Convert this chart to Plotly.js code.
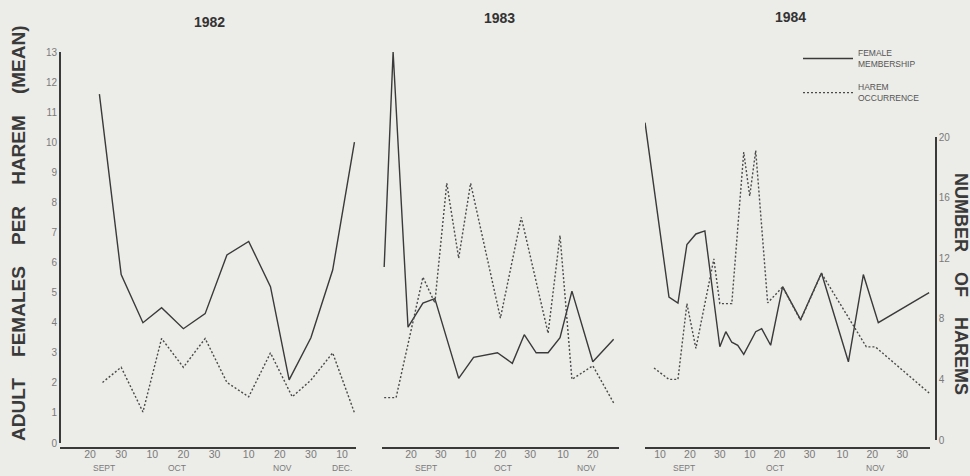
<!DOCTYPE html>
<html>
<head>
<meta charset="utf-8">
<script src="https://cdn.plot.ly/plotly-3.0.1.min.js"></script>
<style>html,body{margin:0;padding:0;background:#ecece8;}#chart{width:970px;height:476px;}</style>
</head>
<body>
<div id="chart"></div>
<script>
// ---- Data ----
// 1982
const fem82Dates = ['1982-09-23','1982-09-30','1982-10-07','1982-10-13','1982-10-20','1982-10-27','1982-11-03','1982-11-10','1982-11-17','1982-11-23','1982-11-30','1982-12-07','1982-12-14'];
const fem82Vals  = [11.6, 5.6, 4.0, 4.5, 3.8, 4.3, 6.25, 6.7, 5.2, 2.1, 3.5, 5.75, 10.0];
const har82Dates = ['1982-09-24','1982-09-30','1982-10-07','1982-10-13','1982-10-20','1982-10-27','1982-11-03','1982-11-10','1982-11-17','1982-11-24','1982-11-30','1982-12-07','1982-12-14'];
const har82Vals  = [3.8, 4.8, 1.85, 6.7, 4.8, 6.7, 3.8, 2.85, 5.75, 2.85, 3.95, 5.75, 1.8];
// 1983
const fem83Dates = ['1983-09-11','1983-09-14','1983-09-19','1983-09-24','1983-09-28','1983-10-06','1983-10-11','1983-10-16','1983-10-19','1983-10-24','1983-10-28','1983-11-01','1983-11-05','1983-11-09','1983-11-13','1983-11-20','1983-11-27'];
const fem83Vals  = [5.85, 13.0, 3.85, 4.65, 4.8, 2.15, 2.85, 2.95, 3.0, 2.65, 3.6, 3.0, 3.0, 3.5, 5.05, 2.7, 3.45];
const har83Dates = ['1983-09-11','1983-09-15','1983-09-24','1983-09-28','1983-10-02','1983-10-06','1983-10-10','1983-10-20','1983-10-27','1983-11-05','1983-11-09','1983-11-13','1983-11-20','1983-11-27'];
const har83Vals  = [2.8, 2.8, 10.75, 9.05, 16.95, 12.0, 16.95, 8.05, 14.7, 7.05, 13.5, 4.0, 4.9, 2.45];
// 1984
const fem84Dates = ['1984-09-05','1984-09-13','1984-09-16','1984-09-19','1984-09-22','1984-09-25','1984-09-30','1984-10-02','1984-10-04','1984-10-06','1984-10-08','1984-10-12','1984-10-14','1984-10-17','1984-10-21','1984-10-27','1984-11-03','1984-11-12','1984-11-17','1984-11-22','1984-12-09'];
const fem84Vals  = [10.65, 4.85, 4.65, 6.6, 6.95, 7.05, 3.2, 3.7, 3.35, 3.25, 2.95, 3.7, 3.8, 3.25, 5.2, 4.1, 5.65, 2.7, 5.6, 4.0, 5.0];
const har84Dates = ['1984-09-08','1984-09-13','1984-09-16','1984-09-19','1984-09-22','1984-09-28','1984-09-30','1984-10-04','1984-10-08','1984-10-10','1984-10-12','1984-10-16','1984-10-21','1984-10-27','1984-11-03','1984-11-18','1984-11-21','1984-12-09'];
const har84Vals  = [4.75, 4.0, 4.0, 9.0, 6.05, 11.95, 9.0, 9.0, 19.0, 16.1, 19.1, 9.05, 10.1, 7.9, 11.0, 6.15, 6.15, 3.1];

// Tick labels
const ticks82 = ['1982-09-20','1982-09-30','1982-10-10','1982-10-20','1982-10-30','1982-11-10','1982-11-20','1982-11-30','1982-12-10'];
const ticks83 = ['1983-09-20','1983-09-30','1983-10-10','1983-10-20','1983-10-30','1983-11-10','1983-11-20'];
const ticks84 = ['1984-09-10','1984-09-20','1984-09-30','1984-10-10','1984-10-20','1984-10-30','1984-11-10','1984-11-20','1984-11-30'];
const months82 = ['SEPT','OCT','NOV','DEC.'];
const months83 = ['SEPT','OCT','NOV'];
const months84 = ['SEPT','OCT','NOV'];
const years = ['1982','1983','1984'];
const seriesNames = ['FEMALE<br>MEMBERSHIP','HAREM<br>OCCURRENCE'];
const leftTicks = [0,1,2,3,4,5,6,7,8,9,10,11,12,13];
const rightTicks = [0,4,8,12,16,20];

// ---- Layout helpers (pixel -> paper) ----
const W = 970, H = 476;
const px = v => v / W;
const py = v => 1 - v / H;
const dayLabel = d => String(parseInt(d.slice(8,10),10));
const FONT = 'Liberation Sans, Arial, sans-serif';

const solid = {color:'#3a3a3a', width:1.4};
const dotted = {color:'#4a4a4a', width:1.4, dash:'2px,2px'};

function tr(x, y, xa, ya, line, name, show) {
  return {type:'scatter', mode:'lines', x:x, y:y, xaxis:xa, yaxis:ya, line:line,
          name:name, showlegend:show, hoverinfo:'skip', legendgroup:name};
}

const data = [
  tr(fem82Dates, fem82Vals, 'x', 'y', solid, seriesNames[0], false),
  tr(har82Dates, har82Vals, 'x', 'y2', dotted, seriesNames[1], false),
  tr(fem83Dates, fem83Vals, 'x2', 'y', solid, seriesNames[0], false),
  tr(har83Dates, har83Vals, 'x2', 'y2', dotted, seriesNames[1], false),
  tr(fem84Dates, fem84Vals, 'x3', 'y', solid, seriesNames[0], true),
  tr(har84Dates, har84Vals, 'x3', 'y2', dotted, seriesNames[1], true)
];

const tickFont = {family:FONT, size:10.5, color:'#7a7a7a'};
function xax(dom, range, tv) {
  return {type:'date', domain:[px(dom[0]), px(dom[1])], range:range,
          tickmode:'array', tickvals:tv, ticktext:tv.map(dayLabel),
          showline:true, linecolor:'#3a3a3a', linewidth:1.8, ticks:'',
          showgrid:false, zeroline:false, anchor:'free', position:py(447),
          ticklabelstandoff:-3,
          tickfont:tickFont, fixedrange:true};
}

const monthFont = {family:FONT, size:8.5, color:'#7a7a7a'};
const annotations = [];
function monthAnn(xref, names, at) {
  names.forEach((m,i) => annotations.push({xref:xref, yref:'paper', x:at[i], y:py(468),
    text:m, showarrow:false, font:monthFont, xanchor:'center', yanchor:'middle'}));
}
monthAnn('x', months82, ['1982-09-24 12:00','1982-10-18','1982-11-21','1982-12-10']);
monthAnn('x2', months83, ['1983-09-25','1983-10-21','1983-11-18']);
monthAnn('x3', months84, ['1984-09-18','1984-10-18 12:00','1984-11-21']);

const yearPos = [[209,22],[500,18],[790,17]];
years.forEach((yr,i) => annotations.push({xref:'paper', yref:'paper', x:px(yearPos[i][0]), y:py(yearPos[i][1]),
  text:'<b>'+yr+'</b>', showarrow:false, xanchor:'center', yanchor:'middle',
  font:{family:FONT, size:14, color:'#333'}}));

const nb = '\u00a0\u00a0\u00a0\u00a0';
annotations.push({xref:'paper', yref:'paper', x:px(18), y:py(233), textangle:-90,
  text:'<b>ADULT'+nb+'FEMALES'+nb+'PER'+nb+'HAREM'+nb+'(MEAN)</b>', showarrow:false,
  xanchor:'center', yanchor:'middle', font:{family:FONT, size:19, color:'#3a3a3a'}});
annotations.push({xref:'paper', yref:'paper', x:px(961), y:py(284), textangle:90,
  text:'<b>NUMBER'+nb+'OF'+nb+'HAREMS</b>', showarrow:false,
  xanchor:'center', yanchor:'middle', font:{family:FONT, size:18, color:'#3a3a3a'}});

const layout = {
  width:W, height:H, margin:{l:0,r:0,t:0,b:0,pad:0},
  paper_bgcolor:'#ecece8', plot_bgcolor:'rgba(0,0,0,0)',
  showlegend:true,
  legend:{x:px(798), y:py(41), xanchor:'left', yanchor:'top', bgcolor:'rgba(0,0,0,0)',
          font:{family:FONT, size:8.5, color:'#555'},
          itemwidth:50, tracegroupgap:9, traceorder:'grouped'},
  xaxis: xax([60,356], ['1982-09-10 08:00','1982-12-14 12:00'], ticks82),
  xaxis2: xax([382,619], ['1983-09-10 06:30','1983-11-28 19:00'], ticks83),
  xaxis3: xax([645,930], ['1984-09-04 23:30','1984-12-09 07:00'], ticks84),
  yaxis: {domain:[py(443), py(52)], range:[0,13], anchor:'free', position:px(59), side:'left',
          tickmode:'array', tickvals:leftTicks, ticktext:leftTicks.map(String),
          showline:true, linecolor:'#3a3a3a', linewidth:1.8, ticks:'', showgrid:false, zeroline:false,
          tickfont:{family:FONT, size:10, color:'#7a7a7a'}, fixedrange:true},
  yaxis2: {domain:[py(440), py(137)], range:[0,20], anchor:'free', position:px(935), side:'right',
          tickmode:'array', tickvals:rightTicks, ticktext:rightTicks.map(String),
          showline:true, linecolor:'#3a3a3a', linewidth:1.8, ticks:'', showgrid:false, zeroline:false,
          tickfont:{family:FONT, size:10, color:'#7a7a7a'}, fixedrange:true},
  annotations: annotations
};

Plotly.newPlot('chart', data, layout, {staticPlot:true, displayModeBar:false});
</script>
</body>
</html>
